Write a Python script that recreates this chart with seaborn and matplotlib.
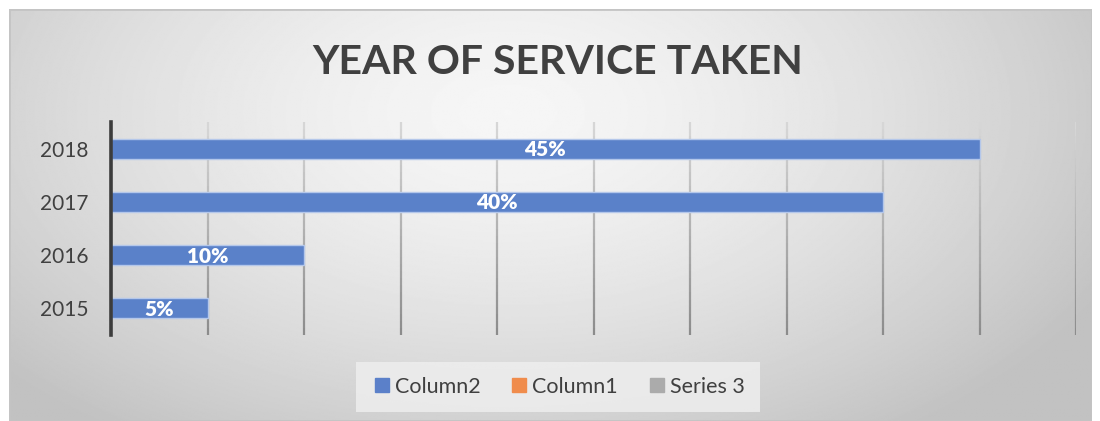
import numpy as np
import pandas as pd
import matplotlib
matplotlib.use("Agg")
import matplotlib.pyplot as plt
import seaborn as sns
from matplotlib.patches import Rectangle
from matplotlib.lines import Line2D
from matplotlib.collections import LineCollection

# ---- data ----
years = ["2018", "2017", "2016", "2015"]
values = [45, 40, 10, 5]
legend_labels = ["Column2", "Column1", "Series 3"]
legend_colors = ["#5b80c9", "#f08c4c", "#ababab"]
title = "YEAR OF SERVICE TAKEN"
x_ticks = list(range(0, 55, 5))

df = pd.DataFrame({"year": years, "value": values})

sns.set_theme(style="white")
plt.rcParams["font.family"] = ["Lato", "DejaVu Sans"]

W, H = 1100, 421
fig = plt.figure(figsize=(W / 100, H / 100), dpi=100)
fig.patch.set_facecolor("white")

# ---- background radial gradient ----
bg = fig.add_axes([9 / W, 0, (1092 - 9) / W, (H - 9) / H])
bg.set_axis_off()
ny, nx = 300, 800
yy, xx = np.mgrid[0:ny, 0:nx]
cx, cy = 0.46 * nx, 0.25 * ny
d = np.sqrt(((xx - cx) / (0.62 * nx)) ** 2 + ((yy - cy) / (0.95 * ny)) ** 2)
d = np.clip(d, 0, 1)
light, dark = 0.965, 0.76
img = light - (light - dark) * d ** 1.5
bg.imshow(img, cmap="gray", vmin=0, vmax=1, aspect="auto", extent=[0, 1, 0, 1], origin="upper")
bg.set_xlim(0, 1)
bg.set_ylim(0, 1)
bg.add_patch(Rectangle((0, 0), 1, 1, transform=bg.transAxes, fill=False,
                       edgecolor="#c4c4c4", lw=2.0))

# ---- main axes ----
left, right, top, bottom = 111, 1076, 122, 335
ax = fig.add_axes([left / W, 1 - bottom / H, (right - left) / W, (bottom - top) / H])
ax.patch.set_alpha(0)

sns.barplot(data=df, x="value", y="year", order=years, orient="h", ax=ax,
            color="#5a81c9", width=0.38, saturation=1, edgecolor="#b4c7ea",
            linewidth=1.0, zorder=3)

ax.set_xlim(0, 50)
ax.set_ylim(3.5, -0.5)
ax.set_xticks(x_ticks)
ax.set_xticklabels([])
ax.set_xlabel("")
ax.set_ylabel("")
for s in ["top", "right", "bottom"]:
    ax.spines[s].set_visible(False)
ax.spines["left"].set_color("#3c3c3c")
ax.spines["left"].set_linewidth(2.6)
ax.spines["left"].set_zorder(5)
ax.tick_params(axis="y", length=0, labelsize=15, labelcolor="#404040", pad=16)
ax.tick_params(axis="x", length=0)
ax.grid(False)

# gradient gridlines
nseg = 30
ys = np.linspace(-0.5, 3.5, nseg + 1)
for xv in x_ticks[1:]:
    segs = [[(xv, ys[i]), (xv, ys[i + 1])] for i in range(nseg)]
    cols = [(g, g, g) for g in np.linspace(0.84, 0.55, nseg)]
    lc = LineCollection(segs, colors=cols, linewidths=1.6, zorder=2)
    ax.add_collection(lc)

# data labels
for p, v in zip(ax.patches, values):
    ax.text(p.get_width() / 2, p.get_y() + p.get_height() / 2 + 0.02, f"{v}%",
            ha="center", va="center", color="white", fontsize=15,
            fontweight="heavy", zorder=6)

# title
fig.text(558 / W, 1 - 62 / H, title, ha="center", va="center",
         fontsize=29.5, fontweight="bold", color="#404040")

# legend
handles = [Line2D([0], [0], marker="s", linestyle="none", markersize=10,
                  markerfacecolor=c, markeredgecolor=c) for c in legend_colors]
leg = fig.legend(handles, legend_labels, loc="center", ncol=3,
                 bbox_to_anchor=(558 / W, 1 - 387 / H), frameon=True,
                 fontsize=15.5, handletextpad=0.1, columnspacing=1.3,
                 borderpad=0.7, handlelength=1.0)
leg.get_frame().set_facecolor("#eeeeee")
leg.get_frame().set_edgecolor("none")
leg.get_frame().set_alpha(0.85)
leg.get_frame().set_boxstyle("square", pad=0)
for t in leg.get_texts():
    t.set_color("#404040")

fig.savefig("out.png", dpi=100, facecolor=fig.get_facecolor())
